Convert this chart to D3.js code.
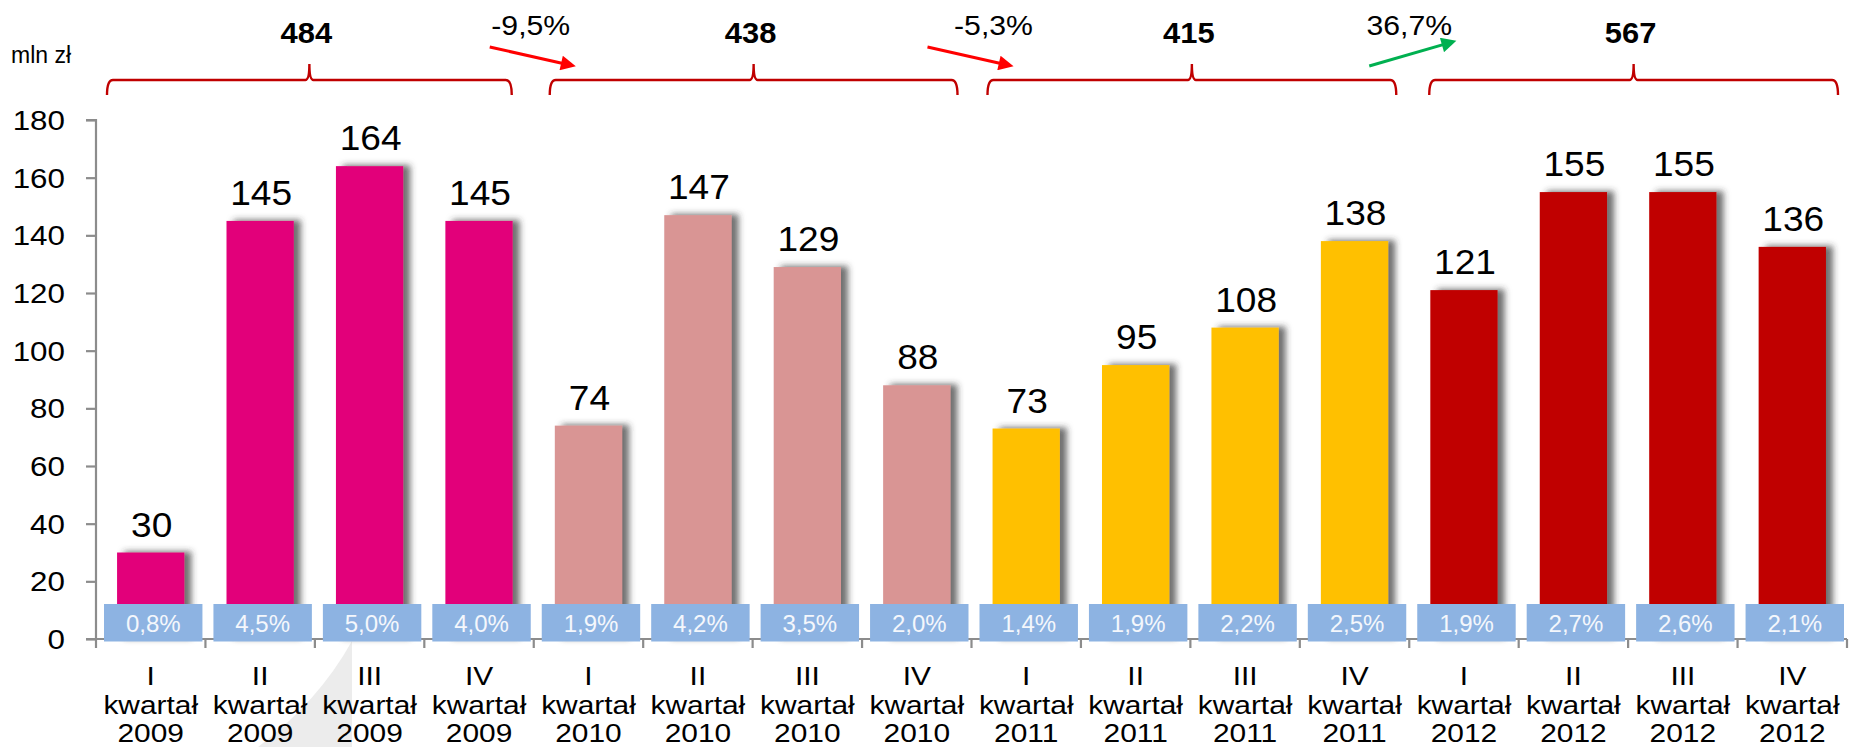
<!DOCTYPE html>
<html>
<head>
<meta charset="utf-8">
<script src="https://cdn.jsdelivr.net/npm/d3@7/dist/d3.min.js"></script>
<style>
  html, body { margin: 0; padding: 0; background: #ffffff; }
  svg { display: block; }
  text { font-family: "Liberation Sans", Arial, sans-serif; }
</style>
</head>
<body>
<svg id="chart" width="1852" height="747"></svg>
<script>
// ---- data ----
const quarters = ["I", "II", "III", "IV", "I", "II", "III", "IV", "I", "II", "III", "IV", "I", "II", "III", "IV"];
const years = ["2009", "2009", "2009", "2009", "2010", "2010", "2010", "2010", "2011", "2011", "2011", "2011", "2012", "2012", "2012", "2012"];
const values = [30, 145, 164, 145, 74, 147, 129, 88, 73, 95, 108, 138, 121, 155, 155, 136];
const shares = ["0,8%", "4,5%", "5,0%", "4,0%", "1,9%", "4,2%", "3,5%", "2,0%", "1,4%", "1,9%", "2,2%", "2,5%", "1,9%", "2,7%", "2,6%", "2,1%"];
const yearTotals = ["484", "438", "415", "567"];
const yearChanges = ["-9,5%", "-5,3%", "36,7%"];
const changeUp = [false, false, true];
const yTicks = [0, 20, 40, 60, 80, 100, 120, 140, 160, 180];
const yUnit = "mln zł";

// ---- styles ----
const yearColors = ["#e2007a", "#d99594", "#ffc000", "#c00000"];
const changeLabelDx = [-3, 22, 0];
const bracketInset = [[11, 22], [16, 14], [16, 13], [20, 9]];

const svg = d3.select("#chart");

const x = d3.scaleBand().domain(d3.range(values.length)).range([96, 1847]).padding(0);
const y = d3.scaleLinear().domain([0, 180]).range([639, 120]);
const bw = x.bandwidth();

const defs = svg.append("defs");
const f = defs.append("filter").attr("id", "shadow")
  .attr("x", "-20%").attr("y", "-10%").attr("width", "150%").attr("height", "120%");
f.append("feDropShadow").attr("dx", 7).attr("dy", -1).attr("stdDeviation", 3.4)
  .attr("flood-color", "#333").attr("flood-opacity", 0.7);

function marker(id, color) {
  defs.append("marker").attr("id", id)
    .attr("viewBox", "0 0 10 10").attr("refX", 2).attr("refY", 5)
    .attr("markerUnits", "userSpaceOnUse")
    .attr("markerWidth", 17).attr("markerHeight", 15)
    .attr("orient", "auto")
    .append("path").attr("d", "M0,0 L10,5 L0,10 Z").attr("fill", color);
}
marker("arrRed", "#ff0000");
marker("arrGreen", "#00b050");

// faint background swoosh
svg.append("path")
  .attr("d", "M258,747 Q318,702 352,641 L352,747 Z")
  .attr("fill", "#ececec");

// stretched text helper
function stext(g, xx, yy, str, size, sx, opts = {}) {
  return g.append("text")
    .attr("transform", `translate(${xx},${yy}) scale(${sx},1)`)
    .attr("text-anchor", opts.anchor || "middle")
    .attr("font-size", size)
    .attr("font-weight", opts.weight || "normal")
    .attr("fill", opts.fill || "#000")
    .text(str);
}

// ---- bars ----
const barW = bw * 0.615;
svg.append("g").selectAll("rect").data(values).join("rect")
  .attr("x", (d, i) => x(i) + (bw - barW) / 2)
  .attr("y", d => y(d))
  .attr("width", barW)
  .attr("height", d => y(0) - y(d))
  .attr("fill", (d, i) => yearColors[Math.floor(i / 4)])
  .attr("filter", "url(#shadow)");

// ---- axes ----
const axisColor = "#8c8c8c";
const yAxis = svg.append("g").attr("transform", "translate(96,0)")
  .call(d3.axisLeft(y).tickValues(yTicks).tickSize(10).tickFormat(""));
yAxis.selectAll("path, line").attr("stroke", axisColor).attr("stroke-width", 2.2);
yAxis.select(".domain").attr("d", `M-10,${y(180)}H0V${y(0)}`);

const xAxisG = svg.append("g").attr("transform", `translate(0,${y(0)})`);
xAxisG.append("line").attr("x1", 86).attr("x2", x.range()[1]).attr("y1", 0).attr("y2", 0)
  .attr("stroke", axisColor).attr("stroke-width", 2.2);
xAxisG.selectAll("line.tick").data(d3.range(values.length + 1)).join("line")
  .attr("class", "tick")
  .attr("x1", i => i < values.length ? x(i) : x(values.length - 1) + bw)
  .attr("x2", i => i < values.length ? x(i) : x(values.length - 1) + bw)
  .attr("y1", 0).attr("y2", 9)
  .attr("stroke", axisColor).attr("stroke-width", 2.2);

// y tick labels
const yl = svg.append("g");
yTicks.forEach(t => stext(yl, 65, y(t) + 10, String(t), 28, 1.12, { anchor: "end" }));

// unit label
stext(svg, 11, 63, yUnit, 23, 1.0, { anchor: "start" });

// ---- share boxes ----
const boxes = svg.append("g");
values.forEach((v, i) => {
  boxes.append("rect")
    .attr("x", x(i) + 8).attr("y", y(0) - 35)
    .attr("width", bw - 11).attr("height", 37.5)
    .attr("fill", "#8db3e2");
  stext(boxes, x(i) + 8 + (bw - 11) / 2, y(0) - 7, shares[i], 24, 1.0, { fill: "#f4f7fc" });
});

// ---- value labels ----
const vl = svg.append("g");
values.forEach((v, i) => stext(vl, x(i) + bw / 2 + 1, y(v) - 16, String(v), 35, 1.06));

// ---- x labels ----
const xl = svg.append("g");
values.forEach((v, i) => {
  const cx = x(i) + bw / 2;
  stext(xl, cx, 685, quarters[i], 26, 1.15);
  stext(xl, cx, 714, "kwartał", 26, 1.15);
  stext(xl, cx, 742, years[i], 26, 1.15);
});

// ---- year brackets ----
const br = svg.append("g");
yearTotals.forEach((t, g) => {
  const L = x(g * 4) + bracketInset[g][0];
  const R = x(g * 4 + 3) + bw - bracketInset[g][1];
  const M = (L + R) / 2;
  const yl0 = 80, ye = 95, yt = 64;
  const d = `M${L},${ye} Q${L},${yl0} ${L + 6},${yl0} L${M - 4},${yl0} Q${M},${yl0} ${M},${yt} ` +
            `Q${M},${yl0} ${M + 4},${yl0} L${R - 6},${yl0} Q${R},${yl0} ${R},${ye}`;
  br.append("path").attr("d", d).attr("fill", "none")
    .attr("stroke", "#c00000").attr("stroke-width", 2.4);
  stext(br, M - 3, 43, t, 30, 1.03, { weight: "bold" });
});

// ---- change annotations ----
const ann = svg.append("g");
yearChanges.forEach((c, k) => {
  const b = x((k + 1) * 4);
  const up = changeUp[k];
  const color = up ? "#00b050" : "#ff0000";
  const x1 = up ? b - 40 : b - 44, y1 = up ? 66 : 47;
  const x2 = up ? b + 50 : b + 45, y2 = up ? 40 : 67;
  const len = Math.hypot(x2 - x1, y2 - y1);
  const s = (len - 15) / len;
  ann.append("line")
    .attr("x1", x1).attr("y1", y1)
    .attr("x2", x1 + (x2 - x1) * s).attr("y2", y1 + (y2 - y1) * s)
    .attr("stroke", color).attr("stroke-width", 3)
    .attr("marker-end", `url(#${up ? "arrGreen" : "arrRed"})`);
  stext(ann, b + changeLabelDx[k], 35, c, 27, 1.12);
});
</script>
</body>
</html>
